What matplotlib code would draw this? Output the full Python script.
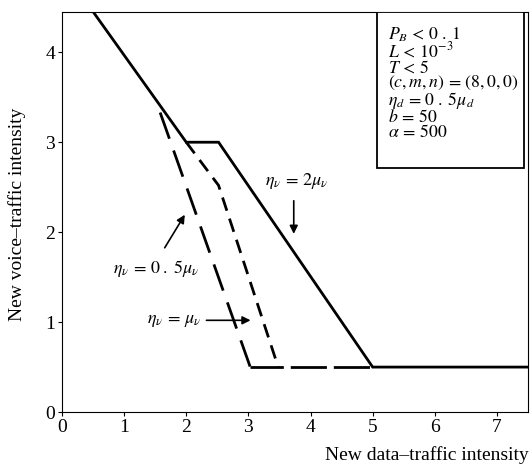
import matplotlib
matplotlib.use('Agg')
import matplotlib.pyplot as plt
from matplotlib.patches import Rectangle

plt.rcParams['font.family'] = ['Liberation Serif', 'DejaVu Serif']
plt.rcParams['mathtext.fontset'] = 'stix'

# Curves (x = new data-traffic, y = new voice-traffic)
x_eta2 = [0.45, 2.0, 2.52, 5.0, 7.5]
y_eta2 = [4.5, 3.0, 3.0, 0.5, 0.5]

x_eta05 = [1.58, 3.03]
y_eta05 = [3.33, 0.5]
x_floor = [3.03, 5.0]
y_floor = [0.5, 0.5]

x_eta1 = [2.0, 2.52, 3.48]
y_eta1 = [3.0, 2.52, 0.5]

xticks = [0, 1, 2, 3, 4, 5, 6, 7]
yticks = [0, 1, 2, 3, 4]

param_lines = [r'$P_B\,<\,0\;.\;1$', r'$L\,<\,10^{-3}$', r'$T\,<\,5$',
               r'$(c,m,n)\,=\,(8,0,0)$', r'$\eta_d\,=\,0\;.\;5\mu_d$',
               r'$b\,=\,50$', r'$\alpha\,=\,500$']

fig = plt.figure(figsize=(5.32, 4.72), dpi=100)
ax = fig.add_axes([0.1165, 0.127, 0.876, 0.848])
ax.set_xlim(0, 7.5)
ax.set_ylim(0, 4.45)

ax.plot(x_eta2, y_eta2, color='black', lw=2.0, solid_joinstyle='miter')
ax.plot(x_eta05, y_eta05, color='black', lw=2.0, linestyle=(0, (10, 4.5)))
ax.plot(x_floor, y_floor, color='black', lw=2.0, linestyle=(1, (13, 2.5)))
ax.plot(x_eta1, y_eta1, color='black', lw=2.0, linestyle=(0, (5, 3)))

ax.set_xticks(xticks)
ax.set_yticks(yticks)
ax.tick_params(direction='out', length=3, width=0.8, labelsize=14, pad=2)
for s in ax.spines.values():
    s.set_linewidth(0.8)

fig.text(0.993, 0.018, 'New data\u2013traffic intensity', ha='right', va='bottom', fontsize=14)
fig.text(0.032, 0.545, 'New voice\u2013traffic intensity', ha='center', va='center',
         rotation=90, fontsize=14)

# Annotations
ax.text(3.78, 2.57, r'$\eta_\nu\,=\,2\mu_\nu$', ha='center', va='center', fontsize=13)
ax.annotate('', xy=(3.73, 1.95), xytext=(3.73, 2.38),
            arrowprops=dict(arrowstyle='-|>', color='black', lw=1.2, mutation_scale=12))

ax.text(1.52, 1.6, r'$\eta_\nu\,=\,0\;.\;5\mu_\nu$', ha='center', va='center', fontsize=13)
ax.annotate('', xy=(2.0, 2.22), xytext=(1.63, 1.8),
            arrowprops=dict(arrowstyle='-|>', color='black', lw=1.2, mutation_scale=12))

ax.text(1.8, 1.02, r'$\eta_\nu\,=\,\mu_\nu$', ha='center', va='center', fontsize=13)
ax.annotate('', xy=(3.08, 1.02), xytext=(2.28, 1.02),
            arrowprops=dict(arrowstyle='-|>', color='black', lw=1.2, mutation_scale=12))

# Parameter box
ax.add_patch(Rectangle((5.07, 2.71), 2.37, 1.74, facecolor='white',
                       edgecolor='black', lw=1.3, zorder=3))
ax.text(5.25, 4.30, '\n'.join(param_lines), ha='left', va='top', fontsize=12.8,
        linespacing=0.85, zorder=4)

fig.savefig('out.png', dpi=100, facecolor='white')
